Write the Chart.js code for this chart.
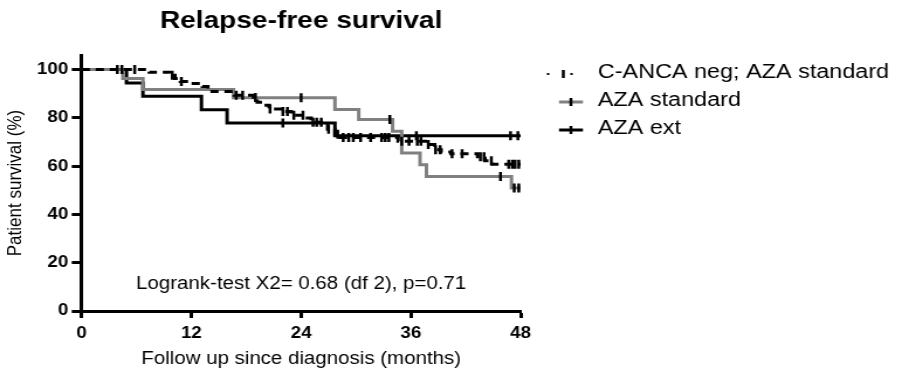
<!DOCTYPE html>
<html>
<head>
<meta charset="utf-8">
<script src="https://cdn.jsdelivr.net/npm/chart.js@4.4.1/dist/chart.umd.min.js"></script>
<style>
  html, body { margin: 0; padding: 0; background: #fff; }
</style>
</head>
<body>
<!-- the source figure is stretched sideways, so the canvas is drawn narrow and widened by an inline style -->
<canvas id="km" width="771" height="371" style="display:block;width:902px;height:371px"></canvas>
<script>
const seriesNames = ['C-ANCA neg; AZA standard', 'AZA standard', 'AZA ext'];
const monthTicks = [0, 12, 24, 36, 48];
const pctTicks = [0, 20, 40, 60, 80, 100];
const logrankNote = 'Logrank-test X2= 0.68 (df 2), p=0.71';

// C-ANCA neg; AZA standard: event times (months) and survival after each step (%)
const cancaTime = [0, 7.4, 9.6, 10.2, 10.8, 11.8, 13.2, 13.8, 16.7, 18.8, 19.2, 19.8, 20.5, 21.9, 22.9, 24.3, 25.1, 26.9, 27.7, 28.3, 34.6, 37.9, 38.6, 39.3, 40.4, 43.3, 44.1, 44.9, 48];
const cancaSurv = [100, 98.9, 97.6, 96.3, 95.0, 94.2, 93.0, 90.9, 89.3, 88.4, 86.4, 85.2, 83.6, 82.6, 81.1, 79.9, 78.2, 75.3, 73.2, 71.8, 70.3, 68.9, 66.8, 65.8, 65.1, 63.9, 62.2, 60.8, 60.8];
const cancaCensor = [4.4, 5.8, 9.9, 10.9, 16.9, 17.6, 19.0, 20.6, 22.0, 22.5, 23.2, 24.2, 25.3, 25.7, 26.2, 27.0, 28.0, 28.6, 29.2, 29.7, 30.5, 31.6, 32.8, 33.2, 33.6, 35.0, 35.8, 36.7, 37.1, 37.9, 38.7, 39.2, 40.5, 41.6, 43.6, 44.0, 44.8, 46.7, 47.1, 47.4, 47.8];

// AZA standard
const stdTime = [0, 4.5, 6.7, 16.6, 27.7, 30.3, 34.0, 35.0, 37.0, 37.7, 47.0, 48];
const stdSurv = [100, 96.3, 91.7, 88.3, 83.4, 79.3, 74.4, 65.4, 60.6, 55.7, 50.9, 50.9];
const stdCensor = [24.0, 33.7, 45.8, 47.3, 47.8];

// AZA ext
const extTime = [0, 4.9, 6.7, 13.1, 15.9, 27.7, 48];
const extSurv = [100, 94.4, 88.9, 83.3, 77.8, 72.6, 72.6];
const extCensor = [3.9, 22.0, 36.6, 46.9, 47.7];

const FONT = 'Arial, "Liberation Sans", sans-serif';

// value of a step curve at time t (used to sit the censor ticks on their curve)
function survAt(times, surv, t) {
  let v = surv[0];
  for (let i = 0; i < times.length; i++) if (times[i] <= t) v = surv[i];
  return v;
}

const toPoints = (times, surv) => times.map((t, i) => ({ x: t, y: surv[i] }));
const censorPoints = (times, surv, cens) => cens.map(t => ({ x: t, y: survAt(times, surv, t) }));

function stepSet(label, times, surv, color, dash) {
  return {
    label, data: toPoints(times, surv), showLine: true, stepped: true,
    borderColor: color, borderWidth: 3, borderDash: dash || [], pointRadius: 0, fill: false
  };
}

function censorSet(times, surv, cens) {
  return {
    label: 'censored', data: censorPoints(times, surv, cens), showLine: false,
    pointStyle: 'line', pointRotation: 90, pointRadius: 4.5,
    pointBorderWidth: 2.5, pointBorderColor: '#000', borderColor: '#000', clip: 10
  };
}

const lineSets = [
  stepSet(seriesNames[0], cancaTime, cancaSurv, '#000', [7, 5]),
  stepSet(seriesNames[1], stdTime, stdSurv, '#808080'),
  stepSet(seriesNames[2], extTime, extSurv, '#000')
];

const overlayText = {
  id: 'overlayText',
  afterDraw(chart) {
    const { ctx, chartArea } = chart;
    ctx.save();
    ctx.fillStyle = '#000';
    ctx.font = '17.5px ' + FONT;
    ctx.textAlign = 'center';
    ctx.textBaseline = 'alphabetic';
    ctx.fillText(logrankNote, (chartArea.left + chartArea.right) / 2, 289);

    // legend
    ctx.textAlign = 'left';
    ctx.textBaseline = 'middle';
    ctx.font = '20px ' + FONT;
    seriesNames.forEach((name, i) => {
      const y = 74 + i * 28;
      const ds = lineSets[i];
      let mx;
      if (i === 0) {
        ctx.fillStyle = '#000';
        ctx.fillRect(467.5, y - 1, 2, 2);
        ctx.fillRect(487.5, y - 1, 2, 2);
        mx = 481.5;
      } else {
        ctx.strokeStyle = ds.borderColor;
        ctx.lineWidth = 3;
        ctx.beginPath();
        ctx.moveTo(477.8, y);
        ctx.lineTo(498.3, y);
        ctx.stroke();
        mx = 488;
      }
      ctx.strokeStyle = '#000';
      ctx.lineWidth = 2.5;
      ctx.beginPath();
      ctx.moveTo(mx, y - 4);
      ctx.lineTo(mx, y + 4);
      ctx.stroke();
      ctx.fillStyle = '#000';
      ctx.fillText(name, 511, y - 1.5);
    });
    ctx.restore();
  }
};

new Chart(document.getElementById('km'), {
  type: 'scatter',
  data: {
    datasets: [
      censorSet(cancaTime, cancaSurv, cancaCensor),
      censorSet(stdTime, stdSurv, stdCensor),
      censorSet(extTime, extSurv, extCensor),
      ...lineSets
    ]
  },
  options: {
    responsive: false,
    devicePixelRatio: 1,
    animation: false,
    layout: { padding: { left: 0, right: 326, top: 0, bottom: 0 } },
    plugins: {
      legend: { display: false },
      tooltip: { enabled: false },
      title: {
        display: true, fullSize: false, text: 'Relapse-free survival', color: '#000',
        font: { family: FONT, size: 24, weight: 'bold' },
        padding: { top: 6.5, bottom: 19.7 }
      }
    },
    scales: {
      x: {
        type: 'linear', min: 0, max: 48,
        afterBuildTicks: axis => { axis.ticks = monthTicks.map(v => ({ value: v })); },
        afterFit: scale => { scale.height = 60; },
        ticks: { color: '#000', padding: 6, font: { family: FONT, size: 16, weight: 'bold' } },
        grid: { drawOnChartArea: false, drawTicks: true, tickLength: 7, tickWidth: 3, color: '#000' },
        border: { display: true, width: 3, color: '#000' },
        title: {
          display: true, text: 'Follow up since diagnosis (months)', color: '#000',
          font: { family: FONT, size: 17.5 }, padding: { top: 0, bottom: 1.5 }
        }
      },
      y: {
        type: 'linear', min: 0, max: 106,
        afterBuildTicks: axis => { axis.ticks = pctTicks.map(v => ({ value: v })); },
        afterFit: scale => { scale.width = 69.8; },
        ticks: { color: '#000', padding: 3, font: { family: FONT, size: 16, weight: 'bold' } },
        grid: { drawOnChartArea: false, drawTicks: true, tickLength: 8.5, tickWidth: 3, color: '#000' },
        border: { display: true, width: 3, color: '#000' },
        title: {
          display: true, text: 'Patient survival (%)', color: '#000',
          font: { family: FONT, size: 17 }, padding: { top: 3, bottom: 0 }
        }
      }
    }
  },
  plugins: [overlayText]
});
</script>
</body>
</html>
